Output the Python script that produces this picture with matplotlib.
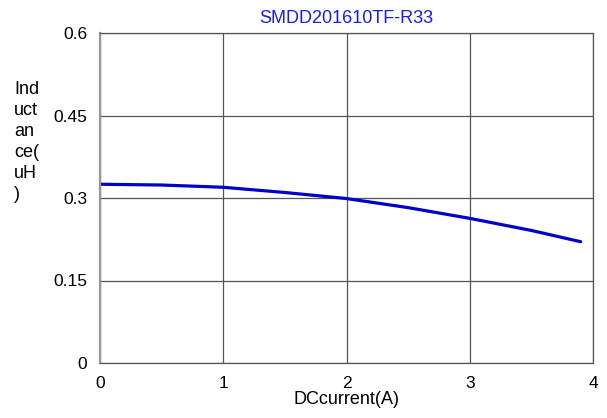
import matplotlib.pyplot as plt

# values
current = [0.0, 0.5, 1.0, 1.5, 2.0, 2.5, 3.0, 3.5, 3.9]
inductance = [0.325, 0.3236, 0.3195, 0.310, 0.299, 0.2825, 0.263, 0.241, 0.2205]
x_ticks = [0, 1, 2, 3, 4]
y_ticks = [0, 0.15, 0.3, 0.45, 0.6]
y_tick_labels = ["0", "0.15", "0.3", "0.45", "0.6"]

plt.rcParams["font.family"] = ["Liberation Sans", "DejaVu Sans"]

fig = plt.figure(figsize=(6.07, 4.18), dpi=100)
ax = fig.add_axes([100 / 607, 1 - 363 / 418, 493 / 607, 330 / 418])

ax.plot(current, inductance, color="#0000cc", linewidth=2.3, solid_capstyle="round")

ax.set_xlim(0, 4)
ax.set_ylim(0, 0.6)
ax.set_xticks(x_ticks)
ax.set_yticks(y_ticks)
ax.set_yticklabels(y_tick_labels)
ax.tick_params(length=0, labelsize=12.5, pad=9)
ax.tick_params(axis="x", pad=9)

ax.grid(True, color="#555555", linewidth=0.9)
for side in ["top", "right", "bottom"]:
    ax.spines[side].set_color("#555555")
    ax.spines[side].set_linewidth(0.9)
ax.spines["left"].set_color("#999999")
ax.spines["left"].set_linewidth(1.6)

ax.set_title("SMDD201610TF-R33", color="#1a1aff", fontsize=13, pad=7)
ax.set_xlabel("DCcurrent(A)", fontsize=13, labelpad=0)

# wrapped y label, placed like the original
fig.text(14 / 607, 1 - 81 / 418, "Ind\nuct\nan\nce(\nuH\n)", fontsize=13,
         ha="left", va="top", linespacing=1.3)

fig.savefig("out.png", dpi=100)
